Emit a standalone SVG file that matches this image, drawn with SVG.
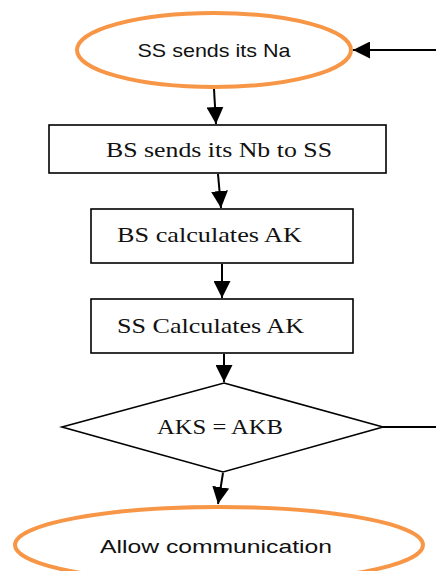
<svg xmlns="http://www.w3.org/2000/svg" width="436" height="571" viewBox="0 0 436 571">
  <style>
    .term { fill: #fff; stroke: #F79646; stroke-width: 4; }
    .proc { fill: #fff; stroke: #000; stroke-width: 1.6; }
    .sans { font-family: "Liberation Sans", Arial, sans-serif; font-size: 19px; fill: #111; }
    .serif { font-family: "Liberation Serif", "Times New Roman", serif; font-size: 22px; fill: #111; }
    .edge { fill: none; stroke: #000; stroke-width: 2; }
  </style>
  <defs>
    <marker id="arrow" viewBox="0 0 10 10" refX="10" refY="5" markerWidth="8.5" markerHeight="8.5" markerUnits="strokeWidth" orient="auto">
      <path d="M0,0 L10,5 L0,10 z" fill="#000"/>
    </marker>
  </defs>
  <rect width="436" height="571" fill="#fff"/>

  <g id="connectors">
    <line class="edge" x1="436" y1="50" x2="353" y2="50" marker-end="url(#arrow)"/>
    <line class="edge" x1="214" y1="89" x2="216" y2="124" marker-end="url(#arrow)"/>
    <line class="edge" x1="218" y1="174" x2="221" y2="208" marker-end="url(#arrow)"/>
    <line class="edge" x1="222" y1="264" x2="222" y2="298" marker-end="url(#arrow)"/>
    <line class="edge" x1="224" y1="354" x2="224" y2="382" marker-end="url(#arrow)"/>
    <line class="edge" x1="383" y1="427" x2="436" y2="427" stroke-width="1.6"/>
    <line class="edge" x1="223" y1="473" x2="218" y2="504" marker-end="url(#arrow)"/>
  </g>

  <g id="start">
    <ellipse class="term" cx="214" cy="50" rx="137" ry="37"/>
    <text class="sans" x="214" y="57" text-anchor="middle" textLength="153" lengthAdjust="spacingAndGlyphs">SS sends its Na</text>
  </g>

  <g id="bs-sends">
    <rect class="proc" x="49" y="125" width="337" height="48"/>
    <text class="serif" x="219" y="157" text-anchor="middle" textLength="226" lengthAdjust="spacingAndGlyphs">BS sends its Nb to SS</text>
  </g>

  <g id="bs-calc">
    <rect class="proc" x="91" y="209" width="262" height="54"/>
    <text class="serif" x="117" y="242" textLength="185" lengthAdjust="spacingAndGlyphs">BS calculates AK</text>
  </g>

  <g id="ss-calc">
    <rect class="proc" x="91" y="299" width="262" height="54"/>
    <text class="serif" x="117" y="333" textLength="187" lengthAdjust="spacingAndGlyphs">SS Calculates AK</text>
  </g>

  <g id="check">
    <polygon class="proc" points="224,383 383,427 223,472 62,427" stroke-width="1.3"/>
    <text class="serif" x="220" y="434" text-anchor="middle" textLength="126" lengthAdjust="spacingAndGlyphs">AKS = AKB</text>
  </g>

  <g id="allow">
    <ellipse class="term" cx="219" cy="545" rx="204" ry="38"/>
    <text class="sans" x="216" y="553" text-anchor="middle" textLength="232" lengthAdjust="spacingAndGlyphs">Allow communication</text>
  </g>
</svg>
